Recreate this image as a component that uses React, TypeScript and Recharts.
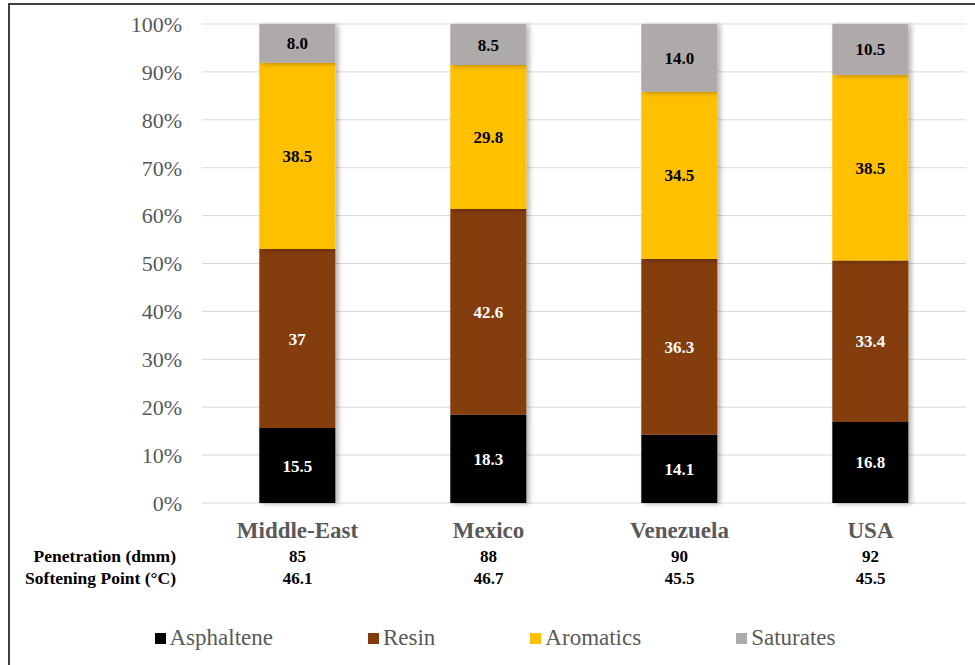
import { BarChart, Bar, XAxis, YAxis, CartesianGrid, Legend, LabelList } from "recharts"

const categories = ["Middle-East", "Mexico", "Venezuela", "USA"]
const asphaltene = ["15.5", "18.3", "14.1", "16.8"]
const resin = ["37", "42.6", "36.3", "33.4"]
const aromatics = ["38.5", "29.8", "34.5", "38.5"]
const saturates = ["8.0", "8.5", "14.0", "10.5"]
const penetration = ["85", "88", "90", "92"]
const softeningPoint = ["46.1", "46.7", "45.5", "45.5"]
const yTicks = [0, 0.1, 0.2, 0.3, 0.4, 0.5, 0.6, 0.7, 0.8, 0.9, 1]

const serif = "Liberation Serif"
const grey = "#595959"

const series = [
  { key: "Asphaltene", values: asphaltene, color: "#000000", text: "#FFFFFF" },
  { key: "Resin", values: resin, color: "#843C0C", text: "#FFFFFF" },
  { key: "Aromatics", values: aromatics, color: "#FFC000", text: "#000000" },
  { key: "Saturates", values: saturates, color: "#AEAAAA", text: "#000000" },
]

const data = categories.map((name, i) => {
  const row: Record<string, string | number> = { name }
  series.forEach(s => {
    row[s.key] = Number(s.values[i])
    row[s.key + "Label"] = s.values[i]
  })
  return row
})

function CategoryTick(props: any) {
  const { x, y, payload } = props
  const i = payload.index ?? props.index
  return (
    <g style={{ fontFamily: serif, fontWeight: 700 }}>
      <text x={x} y={y + 35} textAnchor="middle" fill={grey} fontSize={23}>
        {payload.value}
      </text>
      <text x={x} y={y + 59} textAnchor="middle" fill="#000" fontSize={17}>
        {penetration[i]}
      </text>
      <text x={x} y={y + 81} textAnchor="middle" fill="#000" fontSize={17}>
        {softeningPoint[i]}
      </text>
      {i === 0 && (
        <>
          <text x={166} y={y + 59} textAnchor="end" fill="#000" fontSize={17.5}>
            Penetration (dmm)
          </text>
          <text x={166} y={y + 81} textAnchor="end" fill="#000" fontSize={17.5}>
            Softening Point (°C)
          </text>
        </>
      )}
    </g>
  )
}

function LegendContent() {
  return (
    <div style={{ display: "flex", justifyContent: "center", gap: 95, height: 30, alignItems: "center", paddingLeft: 14, fontFamily: serif }}>
      {series.map(s => (
        <div key={s.key} style={{ display: "flex", alignItems: "center", gap: 4 }}>
          <span style={{ width: 11, height: 11, background: s.color, display: "inline-block" }} />
          <span style={{ fontSize: 23, color: grey }}>{s.key}</span>
        </div>
      ))}
    </div>
  )
}

export default function App() {
  return (
    <div
      style={{
        position: "absolute",
        left: 8,
        top: 3,
        width: 967,
        height: 662,
        boxSizing: "border-box",
        borderLeft: "2px solid #404040",
        borderTop: "2px solid #404040",
        overflow: "hidden",
        background: "#fff",
        fontFamily: serif,
      }}
    >
      <BarChart
        width={965}
        height={660}
        data={data}
        stackOffset="expand"
        barCategoryGap="30%"
        margin={{ top: 19, right: 9, left: 0, bottom: 42 }}
      >
        <defs>
          <filter id="barShadow" x="-20%" y="-20%" width="140%" height="140%">
            <feDropShadow dx="3" dy="1" stdDeviation="2.5" floodColor="#000" floodOpacity="0.3" />
          </filter>
        </defs>
        <CartesianGrid vertical={false} stroke="#D9D9D9" strokeWidth={1} />
        <XAxis
          dataKey="name"
          axisLine={false}
          tickLine={false}
          tickSize={0}
          tickMargin={0}
          height={90}
          interval={0}
          tick={<CategoryTick />}
        />
        <YAxis
          width={192}
          domain={[0, 1]}
          ticks={yTicks}
          axisLine={false}
          tickLine={false}
          tickSize={0}
          tickMargin={20}
          tickFormatter={v => `${Math.round(v * 100)}%`}
          tick={{ fontSize: 22, fill: grey, fontFamily: serif }}
        />
        <Legend verticalAlign="bottom" content={<LegendContent />} wrapperStyle={{ bottom: 12 }} />
        {series.map(s => (
          <Bar key={s.key} dataKey={s.key} stackId="a" fill={s.color} filter="url(#barShadow)" isAnimationActive={false}>
            <LabelList
              dataKey={s.key + "Label"}
              position="center"
              fill={s.text}
              fontSize={17}
              fontWeight={700}
              fontFamily={serif}
            />
          </Bar>
        ))}
      </BarChart>
    </div>
  )
}
